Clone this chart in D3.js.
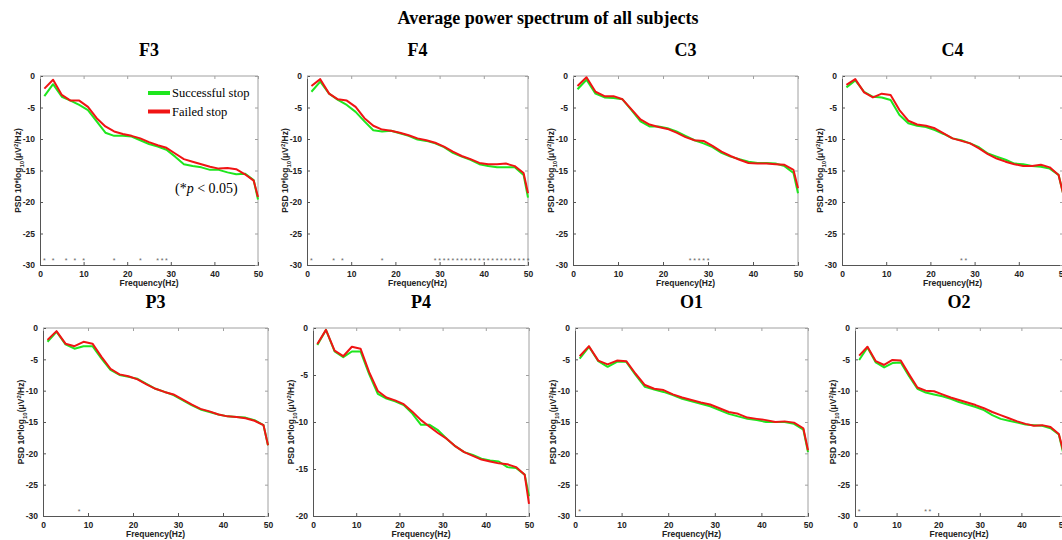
<!DOCTYPE html>
<html>
<head>
<meta charset="utf-8">
<script src="https://d3js.org/d3.v7.min.js"></script>
<style>
  body { margin: 0; background: #fff; }
  svg { display: block; }
</style>
</head>
<body>
<div id="chart"></div>
<script>
// frequencies (Hz) the spectrum was sampled at
const freqs = [1,3,5,7,9,11,13,15,17,19,21,23,25,27,29,31,33,35,37,39,41,43,45,47,49,50];
const channels = ['F3', 'F4', 'C3', 'C4', 'P3', 'P4', 'O1', 'O2'];
const seriesNames = ['Successful stop', 'Failed stop'];
const xTicks = [0, 10, 20, 30, 40, 50];

// Successful stop
const successF3 = [-3.2,-1.3,-3.3,-3.9,-4.6,-5.4,-7.2,-9.0,-9.5,-9.5,-9.6,-10.2,-10.8,-11.2,-11.7,-12.8,-14.0,-14.3,-14.5,-14.9,-14.9,-15.3,-15.6,-15.5,-16.5,-19.6];
const successF4 = [-2.5,-0.9,-2.8,-3.8,-4.6,-5.7,-7.2,-8.6,-8.8,-8.7,-9.1,-9.5,-10.1,-10.3,-10.7,-11.3,-12.2,-12.8,-13.3,-14.0,-14.3,-14.5,-14.5,-14.5,-15.7,-19.3];
const successC3 = [-2.1,-0.6,-2.8,-3.4,-3.5,-3.7,-5.4,-7.2,-8.0,-8.0,-8.3,-8.8,-9.5,-10.2,-10.7,-11.3,-12.2,-12.8,-13.2,-13.6,-13.8,-13.8,-13.9,-14.3,-15.4,-18.6];
const successC4 = [-1.8,-0.7,-2.5,-3.3,-3.4,-3.8,-6.2,-7.5,-7.9,-8.1,-8.6,-9.2,-9.9,-10.2,-10.7,-11.3,-12.3,-12.8,-13.3,-13.9,-14.0,-14.3,-14.4,-14.7,-15.7,-18.6];
const successP3 = [-2.2,-0.6,-2.6,-3.3,-2.9,-2.9,-4.9,-6.7,-7.5,-7.8,-8.1,-8.9,-9.7,-10.2,-10.7,-11.5,-12.3,-13.0,-13.4,-13.8,-14.1,-14.2,-14.3,-14.7,-15.5,-18.7];
const successP4 = [-1.8,-0.2,-2.5,-3.1,-2.5,-2.5,-4.9,-7.0,-7.5,-7.8,-8.2,-9.1,-10.3,-10.3,-10.9,-11.8,-12.6,-13.2,-13.5,-13.9,-14.1,-14.2,-14.8,-14.9,-15.6,-17.9];
const successO1 = [-4.9,-3.0,-5.3,-6.2,-5.4,-5.4,-7.5,-9.4,-9.8,-10.2,-10.7,-11.3,-11.7,-12.1,-12.5,-13.1,-13.7,-14.1,-14.5,-14.7,-15.0,-15.0,-15.0,-15.3,-16.2,-19.8];
const successO2 = [-5.1,-3.1,-5.5,-6.3,-5.6,-5.5,-7.7,-9.7,-10.3,-10.6,-10.9,-11.3,-11.8,-12.2,-12.6,-13.1,-13.9,-14.5,-14.8,-15.1,-15.4,-15.5,-15.6,-16.0,-17.0,-19.8];

// Failed stop
const failedF3 = [-2.0,-0.6,-3.0,-3.9,-3.9,-4.9,-6.7,-8.0,-8.8,-9.2,-9.5,-9.9,-10.5,-11.0,-11.4,-12.3,-13.2,-13.6,-14.0,-14.4,-14.7,-14.6,-14.8,-15.6,-16.6,-19.2];
const failedF4 = [-1.6,-0.5,-2.8,-3.7,-3.9,-4.9,-6.7,-7.9,-8.5,-8.7,-9.0,-9.4,-9.9,-10.2,-10.6,-11.2,-12.0,-12.7,-13.2,-13.8,-14.0,-14.0,-13.9,-14.3,-15.4,-18.6];
const failedC3 = [-1.6,-0.2,-2.5,-3.2,-3.2,-3.7,-5.3,-6.9,-7.7,-8.1,-8.4,-9.0,-9.7,-10.2,-10.3,-11.1,-12.0,-12.7,-13.3,-13.8,-13.9,-13.9,-14.0,-14.1,-14.9,-17.8];
const failedC4 = [-1.4,-0.5,-2.6,-3.4,-2.8,-3.0,-5.4,-7.1,-7.7,-7.9,-8.3,-9.1,-9.9,-10.3,-10.7,-11.5,-12.4,-13.1,-13.6,-14.0,-14.3,-14.3,-14.1,-14.5,-15.7,-18.6];
const failedP3 = [-1.9,-0.5,-2.5,-2.9,-2.2,-2.5,-4.6,-6.5,-7.4,-7.7,-8.2,-9.0,-9.7,-10.2,-10.6,-11.4,-12.2,-12.9,-13.3,-13.8,-14.1,-14.2,-14.4,-14.8,-15.5,-18.7];
const failedP4 = [-1.7,-0.2,-2.4,-3.0,-2.0,-2.2,-4.7,-6.7,-7.4,-7.7,-8.1,-8.9,-9.8,-10.5,-11.2,-11.8,-12.6,-13.2,-13.6,-14.0,-14.2,-14.4,-14.5,-14.8,-15.6,-18.7];
const failedO1 = [-4.5,-2.9,-5.2,-5.8,-5.2,-5.3,-7.3,-9.1,-9.7,-9.9,-10.6,-11.1,-11.5,-11.9,-12.2,-12.8,-13.4,-13.7,-14.3,-14.5,-14.7,-15.0,-14.9,-15.1,-16.0,-19.5];
const failedO2 = [-4.4,-3.0,-5.3,-5.9,-5.1,-5.2,-7.4,-9.5,-10.0,-10.1,-10.6,-11.1,-11.5,-11.9,-12.3,-12.8,-13.4,-13.9,-14.4,-14.9,-15.3,-15.6,-15.5,-15.8,-16.9,-19.5];

// frequencies with p < 0.05
const starsF3 = [1,3,6,8,10,17,23,27,28,29];
const starsF4 = [1,6,8,17,29,30,31,32,33,34,35,36,37,38,39,40,41,42,43,44,45,46,47,48,49,50];
const starsC3 = [26,27,28,29,30];
const starsC4 = [27,28];
const starsP3 = [8];
const starsP4 = [];
const starsO1 = [1];
const starsO2 = [1,17,18];

const yTicksDeep = [0,-5,-10,-15,-20,-25,-30];
const yTicksShallow = [0,-5,-10,-15,-20];

const successAll = [successF3, successF4, successC3, successC4, successP3, successP4, successO1, successO2];
const failedAll = [failedF3, failedF4, failedC3, failedC4, failedP3, failedP4, failedO1, failedO2];
const starsAll = [starsF3, starsF4, starsC3, starsC4, starsP3, starsP4, starsO1, starsO2];
const yMinAll = [-30, -30, -30, -30, -30, -20, -30, -30];

// layout of each panel's plot box (pixels)
const boxes = [
  { l: 40,  r: 258,  t: 76,  b: 265 },
  { l: 307, r: 528,  t: 76,  b: 265 },
  { l: 573, r: 798,  t: 76,  b: 265 },
  { l: 842, r: 1063, t: 76,  b: 265 },
  { l: 43,  r: 268,  t: 328, b: 516 },
  { l: 313, r: 529,  t: 328, b: 516 },
  { l: 575, r: 808,  t: 328, b: 516 },
  { l: 855, r: 1063, t: 328, b: 516 }
];

const GREEN = '#1ee61e';
const RED = '#f01414';
const SANS = 'Arial, "Liberation Sans", sans-serif';
const SERIF = '"Times New Roman", "Liberation Serif", serif';

const svg = d3.select('#chart').append('svg')
  .attr('width', 1062)
  .attr('height', 540);

// 总标题
svg.append('text')
  .attr('x', 548)
  .attr('y', 24)
  .attr('text-anchor', 'middle')
  .style('font-family', SERIF)
  .style('font-weight', 'bold')
  .style('font-size', '18px')
  .text('Average power spectrum of all subjects');

channels.forEach((name, i) => {
  const box = boxes[i];
  const yMin = yMinAll[i];
  const yTicks = yMin === -30 ? yTicksDeep : yTicksShallow;

  const x = d3.scaleLinear().domain([0, 50]).range([box.l, box.r]);
  const y = d3.scaleLinear().domain([yMin, 0]).range([box.b, box.t]);

  const g = svg.append('g');

  // panel title
  g.append('text')
    .attr('x', (box.l + box.r) / 2)
    .attr('y', box.t - 20)
    .attr('text-anchor', 'middle')
    .style('font-family', SERIF)
    .style('font-weight', 'bold')
    .style('font-size', '18px')
    .text(name);

  // frame: top/right lighter
  g.append('line').attr('x1', box.l).attr('x2', box.r).attr('y1', box.t).attr('y2', box.t)
    .attr('stroke', '#a0a0a0').attr('stroke-width', 1);
  g.append('line').attr('x1', box.r).attr('x2', box.r).attr('y1', box.t).attr('y2', box.b)
    .attr('stroke', '#a0a0a0').attr('stroke-width', 1);

  // 坐标轴 (MATLAB style inward ticks)
  const xAxis = g.append('g')
    .attr('transform', `translate(0,${box.b})`)
    .call(d3.axisBottom(x).tickValues(xTicks).tickSize(-3).tickPadding(6).tickFormat(d3.format('d')));
  const yAxis = g.append('g')
    .attr('transform', `translate(${box.l},0)`)
    .call(d3.axisLeft(y).tickValues(yTicks).tickSize(-3).tickPadding(5).tickFormat(d => d === 0 ? '0' : String(d)));
  // mirrored ticks on top / right
  g.append('g')
    .attr('transform', `translate(0,${box.t})`)
    .call(d3.axisTop(x).tickValues(xTicks).tickSize(-3).tickFormat(''))
    .call(a => a.select('.domain').remove())
    .call(a => a.selectAll('line').attr('stroke', '#a0a0a0'));
  g.append('g')
    .attr('transform', `translate(${box.r},0)`)
    .call(d3.axisRight(y).tickValues(yTicks).tickSize(-3).tickFormat(''))
    .call(a => a.select('.domain').remove())
    .call(a => a.selectAll('line').attr('stroke', '#a0a0a0'));

  [xAxis, yAxis].forEach(a => {
    a.select('.domain').attr('stroke', '#555');
    a.selectAll('line').attr('stroke', '#555');
    a.selectAll('text')
      .style('font-family', SANS)
      .style('font-weight', 'bold')
      .style('font-size', '8.5px')
      .attr('fill', '#222');
  });

  // axis labels
  g.append('text')
    .attr('x', (box.l + box.r) / 2)
    .attr('y', box.b + 21)
    .attr('text-anchor', 'middle')
    .style('font-family', SANS)
    .style('font-weight', 'bold')
    .style('font-size', '8.5px')
    .attr('fill', '#222')
    .text('Frequency(Hz)');

  const yl = g.append('text')
    .attr('transform', `translate(${box.l - 19},${(box.t + box.b) / 2}) rotate(-90)`)
    .attr('text-anchor', 'middle')
    .style('font-family', SANS)
    .style('font-weight', 'bold')
    .style('font-size', '8.5px')
    .attr('fill', '#222');
  yl.append('tspan').text('PSD 10*log');
  yl.append('tspan').attr('baseline-shift', 'sub').style('font-size', '6px').text('10');
  yl.append('tspan').text('(\u03BCV');
  yl.append('tspan').attr('baseline-shift', 'super').style('font-size', '6px').text('2');
  yl.append('tspan').text('/Hz)');

  // significance stars
  g.selectAll('.star')
    .data(starsAll[i])
    .enter().append('text')
    .attr('class', 'star')
    .attr('x', d => x(d))
    .attr('y', y(yMin + 1) + 4)
    .attr('text-anchor', 'middle')
    .style('font-family', SANS)
    .style('font-size', '7px')
    .attr('fill', '#666')
    .text('*');

  // 曲线
  const line = d3.line()
    .x((d, k) => x(freqs[k]))
    .y(d => y(d));

  g.append('path')
    .datum(successAll[i])
    .attr('d', line)
    .attr('fill', 'none')
    .attr('stroke', GREEN)
    .attr('stroke-width', 2)
    .attr('stroke-linejoin', 'round');

  g.append('path')
    .datum(failedAll[i])
    .attr('d', line)
    .attr('fill', 'none')
    .attr('stroke', RED)
    .attr('stroke-width', 2)
    .attr('stroke-linejoin', 'round');

  // legend and p-value note only in F3
  if (name === 'F3') {
    const colors = [GREEN, RED];
    const leg = g.selectAll('.leg')
      .data(seriesNames)
      .enter().append('g')
      .attr('class', 'leg')
      .attr('transform', (d, k) => `translate(${box.l + 108},${box.t + 17 + k * 18.5})`);
    leg.append('line')
      .attr('x1', 0).attr('x2', 22)
      .attr('stroke', (d, k) => colors[k])
      .attr('stroke-width', 4);
    leg.append('text')
      .attr('x', 24)
      .attr('y', 4)
      .style('font-family', SERIF)
      .style('font-size', '12.5px')
      .text(d => d);

    const note = g.append('text')
      .attr('x', box.l + 135)
      .attr('y', y(-18.6))
      .style('font-family', SERIF)
      .style('font-size', '14px');
    note.append('tspan').text('(*');
    note.append('tspan').style('font-style', 'italic').text('p');
    note.append('tspan').text(' < 0.05)');
  }
});
</script>
</body>
</html>
